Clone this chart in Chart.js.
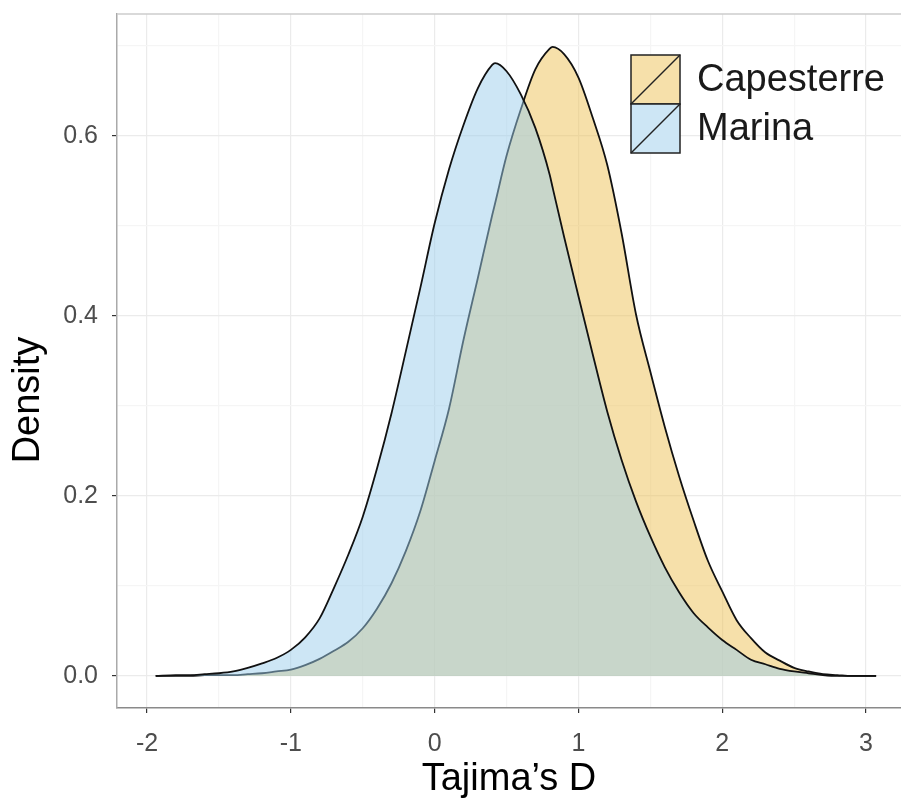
<!DOCTYPE html>
<html>
<head>
<meta charset="utf-8">
<title>Tajima's D density</title>
<script src="https://cdn.jsdelivr.net/npm/chart.js@4.4.0/dist/chart.umd.min.js"></script>
<style>
  html, body { margin: 0; padding: 0; background: #fff; }
  #wrap { width: 901px; height: 803px; position: relative; }
</style>
</head>
<body>
<div id="wrap"><canvas id="chart"></canvas></div>
<script>
// Tajima's D values where the densities were read
var xs = [-1.94, -1.8, -1.7, -1.6, -1.5, -1.4, -1.3, -1.2, -1.1, -1.0,
          -0.9, -0.8, -0.7, -0.6, -0.5, -0.4, -0.3, -0.2, -0.1, 0.0,
          0.1, 0.2, 0.3, 0.4, 0.42, 0.5, 0.6, 0.7, 0.8, 0.82,
          0.9, 1.0, 1.1, 1.2, 1.3, 1.4, 1.5, 1.6, 1.7, 1.8,
          1.9, 2.0, 2.1, 2.2, 2.3, 2.4, 2.5, 2.6, 2.7, 2.8,
          2.9, 3.07];

var capesterre = [0, 0, 0, 0.001, 0.001, 0.001, 0.002, 0.003, 0.005, 0.007,
                  0.012, 0.019, 0.028, 0.038, 0.053, 0.075, 0.103, 0.139, 0.183, 0.239,
                  0.297, 0.373, 0.442, 0.512, 0.525, 0.578, 0.630, 0.674, 0.697, 0.699,
                  0.691, 0.665, 0.620, 0.568, 0.492, 0.402, 0.338, 0.277, 0.222, 0.173,
                  0.128, 0.094, 0.062, 0.042, 0.026, 0.017, 0.009, 0.005, 0.002, 0.001,
                  0, 0];

var marina = [0, 0.001, 0.001, 0.002, 0.003, 0.005, 0.009, 0.014, 0.020, 0.029,
              0.043, 0.064, 0.098, 0.135, 0.177, 0.231, 0.292, 0.361, 0.431, 0.503,
              0.563, 0.612, 0.653, 0.679, 0.681, 0.672, 0.646, 0.609, 0.557, 0.543,
              0.488, 0.422, 0.357, 0.294, 0.240, 0.194, 0.155, 0.121, 0.093, 0.070,
              0.054, 0.040, 0.029, 0.018, 0.013, 0.008, 0.005, 0.003, 0.001, 0,
              0, 0];

var seriesNames = ['Capesterre', 'Marina'];
var xTicks = [-2, -1.5, -1, -0.5, 0, 0.5, 1, 1.5, 2, 2.5, 3];
var yTicks = [0, 0.1, 0.2, 0.3, 0.4, 0.5, 0.6, 0.7];

var FONT = "'Liberation Sans', Arial, Helvetica, sans-serif";
var capeFill = 'rgba(237, 193, 85, 0.5)';
var marinaFill = 'rgba(155, 205, 235, 0.5)';

function toPoints(ys) {
    return xs.map(function (x, i) { return {x: x, y: ys[i]}; });
}

function isMajorX(v) { return Math.abs(v - Math.round(v)) < 1e-6; }
function isMajorY(v) { return Math.abs(v * 5 - Math.round(v * 5)) < 1e-6; }

// top edge of the panel + the y title + legend with slashed keys
var extras = {
    id: 'extras',
    afterDraw: function (chart) {
        var ctx = chart.ctx, a = chart.chartArea;
        ctx.save();
        ctx.strokeStyle = '#cccccc';
        ctx.lineWidth = 1.5;
        ctx.beginPath();
        ctx.moveTo(a.left, a.top);
        ctx.lineTo(a.right, a.top);
        ctx.stroke();

        ctx.fillStyle = '#000';
        ctx.font = '38px ' + FONT;
        ctx.textAlign = 'center';
        ctx.textBaseline = 'middle';
        ctx.translate(29, 400);
        ctx.rotate(-Math.PI / 2);
        ctx.fillText('Density', 0, 0);
        ctx.restore();

        var fills = [capeFill, marinaFill];
        var bx = 631, by = 55, size = 49;
        ctx.save();
        for (var i = 0; i < seriesNames.length; i++) {
            var y0 = by + i * size;
            ctx.fillStyle = '#fff';
            ctx.fillRect(bx, y0, size, size);
            ctx.fillStyle = fills[i];
            ctx.fillRect(bx, y0, size, size);
            ctx.strokeStyle = '#222';
            ctx.lineWidth = 1.5;
            ctx.strokeRect(bx, y0, size, size);
            ctx.beginPath();
            ctx.moveTo(bx, y0 + size);
            ctx.lineTo(bx + size, y0);
            ctx.stroke();
            ctx.fillStyle = '#1a1a1a';
            ctx.font = '38px ' + FONT;
            ctx.textAlign = 'left';
            ctx.textBaseline = 'middle';
            ctx.fillText(seriesNames[i], bx + size + 17, y0 + size / 2 + 1);
        }
        ctx.restore();
    }
};

new Chart(document.getElementById('chart'), {
    type: 'line',
    data: {
        datasets: [{
            label: seriesNames[0],
            data: toPoints(capesterre),
            borderColor: '#111',
            borderWidth: 1.8,
            backgroundColor: capeFill,
            fill: 'origin',
            pointRadius: 0,
            cubicInterpolationMode: 'monotone',
            order: 1
        }, {
            label: seriesNames[1],
            data: toPoints(marina),
            borderColor: '#111',
            borderWidth: 1.8,
            backgroundColor: marinaFill,
            fill: 'origin',
            pointRadius: 0,
            cubicInterpolationMode: 'monotone',
            order: 0
        }]
    },
    options: {
        responsive: true,
        maintainAspectRatio: false,
        animation: false,
        layout: {padding: {top: 14, right: 0, bottom: 0, left: 0}},
        plugins: {
            legend: {display: false},
            tooltip: {enabled: false}
        },
        scales: {
            x: {
                type: 'linear',
                min: -2.209,
                max: 3.243,
                afterBuildTicks: function (scale) {
                    scale.ticks = xTicks.map(function (v) { return {value: v}; });
                },
                afterFit: function (scale) {
                    scale.height = 95;
                    scale.paddingLeft = 0;
                    scale.paddingRight = 0;
                },
                grid: {
                    color: function (c) { return isMajorX(c.tick.value) ? '#ebebeb' : '#f5f5f5'; },
                    lineWidth: 1.2,
                    tickLength: 5,
                    tickColor: function (c) { return isMajorX(c.tick.value) ? '#333' : 'rgba(0,0,0,0)'; }
                },
                border: {color: '#8a8a8a', width: 1.5},
                ticks: {
                    autoSkip: false,
                    maxRotation: 0,
                    padding: 16,
                    color: '#4d4d4d',
                    font: {family: FONT, size: 25},
                    callback: function (v) { return isMajorX(v) ? String(Math.round(v)) : ''; }
                },
                title: {
                    display: true,
                    text: 'Tajima\u2019s D',
                    color: '#000',
                    font: {family: FONT, size: 38, lineHeight: 1},
                    padding: {top: 0, bottom: 4}
                }
            },
            y: {
                type: 'linear',
                min: -0.0356,
                max: 0.7356,
                afterBuildTicks: function (scale) {
                    scale.ticks = yTicks.map(function (v) { return {value: v}; });
                },
                afterFit: function (scale) {
                    scale.width = 117;
                    scale.paddingTop = 0;
                    scale.paddingBottom = 0;
                },
                grid: {
                    color: function (c) { return isMajorY(c.tick.value) ? '#ebebeb' : '#f5f5f5'; },
                    lineWidth: 1.2,
                    tickLength: 5,
                    tickColor: function (c) { return isMajorY(c.tick.value) ? '#333' : 'rgba(0,0,0,0)'; }
                },
                border: {color: '#aaaaaa', width: 1.5},
                ticks: {
                    autoSkip: false,
                    padding: 14,
                    color: '#4d4d4d',
                    font: {family: FONT, size: 25},
                    callback: function (v) { return isMajorY(v) ? v.toFixed(1) : ''; }
                }
            }
        }
    },
    plugins: [extras]
});
</script>
</body>
</html>
